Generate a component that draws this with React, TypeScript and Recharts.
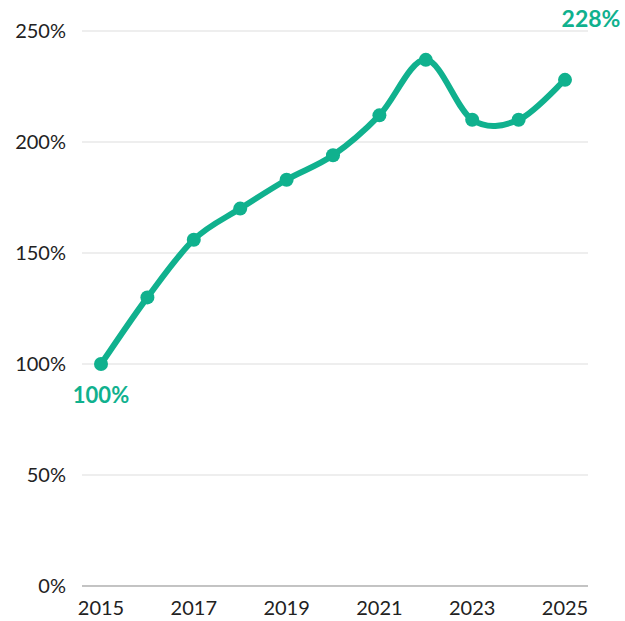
import { LineChart, Line, XAxis, YAxis, CartesianGrid, LabelList } from 'recharts';

const years = [2015, 2016, 2017, 2018, 2019, 2020, 2021, 2022, 2023, 2024, 2025];
const values = [100, 130, 156, 170, 183, 194, 212, 237, 210, 210, 228];
const yTicks = [0, 50, 100, 150, 200, 250];

const GREEN = '#10b18e';

const data = years.map((year, i) => ({ year, value: values[i] }));

// catmull-rom style curve (cardinal, tension 0) – the built-in "natural" overshoots too much
function cardinalCurve(context: any) {
  let pts: number[][] = [];
  return {
    areaStart() {},
    areaEnd() {},
    lineStart() {
      pts = [];
    },
    lineEnd() {
      const n = pts.length;
      if (!n) return;
      context.moveTo(pts[0][0], pts[0][1]);
      for (let i = 0; i < n - 1; i++) {
        const p0 = pts[Math.max(i - 1, 0)];
        const p1 = pts[i];
        const p2 = pts[i + 1];
        const p3 = pts[Math.min(i + 2, n - 1)];
        context.bezierCurveTo(
          p1[0] + (p2[0] - p0[0]) / 6,
          p1[1] + (p2[1] - p0[1]) / 6,
          p2[0] - (p3[0] - p1[0]) / 6,
          p2[1] - (p3[1] - p1[1]) / 6,
          p2[0],
          p2[1]
        );
      }
    },
    point(x: number, y: number) {
      pts.push([+x, +y]);
    },
  };
}

// only the first and last point get a big label
const EndLabel = (props: any) => {
  const { x, y, index, value } = props;
  if (index === 0) {
    return (
      <text x={x} y={y + 39} textAnchor="middle" fill={GREEN} fontSize={22} fontWeight={700} fontFamily="Lato">
        {value}%
      </text>
    );
  }
  if (index === values.length - 1) {
    return (
      <text x={x + 26} y={y - 53} textAnchor="middle" fill={GREEN} fontSize={23} fontWeight={700} fontFamily="Lato">
        {value}%
      </text>
    );
  }
  return null;
};

export default function App() {
  return (
    <div style={{ position: 'absolute', left: 0, top: 0, background: '#fff' }}>
      <LineChart width={625} height={621} data={data} margin={{ top: 31, right: 37, bottom: 0, left: 0 }}>
        <CartesianGrid vertical={false} stroke="#dddddd" />
        <XAxis
          dataKey="year"
          height={35}
          interval={1}
          tickLine={false}
          tickSize={0}
          tickMargin={15}
          axisLine={{ stroke: '#999999' }}
          padding={{ left: 19, right: 23 }}
          tick={{ fill: '#222', fontSize: 20, fontFamily: 'Lato' }}
        />
        <YAxis
          width={82}
          domain={[0, 250]}
          ticks={yTicks}
          tickFormatter={(v) => `${v}%`}
          tickLine={false}
          tickSize={0}
          tickMargin={16}
          axisLine={false}
          tick={{ fill: '#222', fontSize: 20, fontFamily: 'Lato' }}
        />
        <Line
          type={cardinalCurve as any}
          dataKey="value"
          stroke={GREEN}
          strokeWidth={6}
          dot={{ r: 7, fill: GREEN, stroke: GREEN, strokeWidth: 0 }}
          isAnimationActive={false}
        >
          <LabelList dataKey="value" content={<EndLabel />} />
        </Line>
      </LineChart>
    </div>
  );
}
